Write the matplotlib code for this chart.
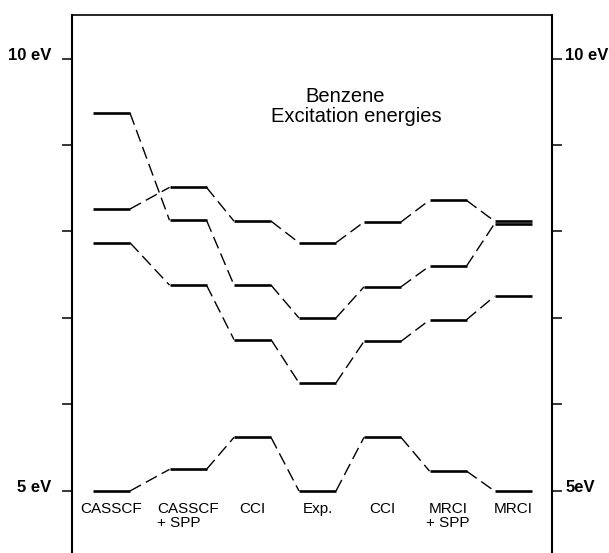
"""Benzene excitation energies: level diagram comparing methods."""

import matplotlib

matplotlib.use("Agg")
import matplotlib.pyplot as plt
from matplotlib import font_manager

# methods (columns), left to right
methods = ["CASSCF", "CASSCF\n+ SPP", "CCI", "Exp.", "CCI", "MRCI\n+ SPP", "MRCI"]

# excitation energies in eV, one list per state
state_a = [9.37, 8.13, 7.38, 7.00, 7.36, 7.60, 8.09]
state_b = [8.26, 8.51, 8.12, 7.87, 8.11, 8.36, 8.12]
state_c = [7.87, 7.38, 6.75, 6.25, 6.73, 6.98, 7.25]
state_d = [5.00, 5.25, 5.62, 5.00, 5.62, 5.23, 5.00]

y_ticks = [5, 6, 7, 8, 9, 10]

# layout: column centres in axis pixels (axis spans 480 px)
column_x = [39.5, 116.0, 180.5, 245.5, 310.5, 376.0, 441.0]
half_width = 18.5

plt.rcParams["font.family"] = ["Liberation Sans", "DejaVu Sans"]

# condensed face for the eV labels, whichever is installed
installed = {f.name for f in font_manager.fontManager.ttflist}
if "Liberation Sans Narrow" in installed:
    ev_family, ev_size = "Liberation Sans Narrow", 13.5
elif "DejaVu Sans Condensed" in installed:
    ev_family, ev_size = "DejaVu Sans Condensed", 12
else:
    ev_family, ev_size = "Liberation Sans", 12

fig = plt.figure(figsize=(6.09, 5.53), dpi=100)
ax = fig.add_axes([72 / 609, 0.0, 480 / 609, 538 / 553])

ax.set_xlim(0, 480)
ax.set_ylim(4.283, 10.503)

for values in (state_a, state_b, state_c, state_d):
    for i, v in enumerate(values):
        x0 = column_x[i]
        ax.plot(
            [x0 - half_width, x0 + half_width],
            [v, v],
            color="k",
            linewidth=1.9,
            solid_capstyle="butt",
            zorder=3,
        )
        if i + 1 < len(values):
            ax.plot(
                [x0 + half_width, column_x[i + 1] - half_width],
                [v, values[i + 1]],
                color="k",
                linewidth=1.0,
                dashes=(9, 4),
                zorder=2,
            )

ax.spines["bottom"].set_visible(False)
for name in ("left", "right"):
    ax.spines[name].set_linewidth(1.5)
ax.spines["top"].set_linewidth(1.2)

ax.set_xticks([])
ax.set_yticks(y_ticks)
ax.tick_params(
    axis="y",
    direction="out",
    length=7,
    width=1.1,
    left=True,
    right=True,
    labelleft=False,
    labelright=False,
)

for y, left_text, right_text in ((10, "10 eV", "10 eV"), (5, "5 eV", "5eV")):
    ax.annotate(
        left_text,
        xy=(0, y),
        xycoords=("axes fraction", "data"),
        xytext=(-15, -1),
        textcoords="offset points",
        ha="right",
        va="baseline",
        fontsize=ev_size,
        fontweight="bold",
        family=ev_family,
    )
    ax.annotate(
        right_text,
        xy=(1, y),
        xycoords=("axes fraction", "data"),
        xytext=(9.5, -1),
        textcoords="offset points",
        ha="left",
        va="baseline",
        fontsize=ev_size,
        fontweight="bold",
        family=ev_family,
    )

for x0, name in zip(column_x, methods):
    ax.annotate(
        name,
        xy=(x0, min(y_ticks)),
        xycoords="data",
        xytext=(0, -8),
        textcoords="offset points",
        ha="center",
        va="top",
        multialignment="left" if name.startswith("CASSCF\n") else "center",
        linespacing=0.95,
        fontsize=11,
    )

ax.text(0.569, 0.838, "Benzene", transform=ax.transAxes,
        ha="center", va="baseline", fontsize=14.5)
ax.text(0.593, 0.801, "Excitation energies", transform=ax.transAxes,
        ha="center", va="baseline", fontsize=14.5)

fig.savefig("out.png", dpi=100, facecolor="white")
